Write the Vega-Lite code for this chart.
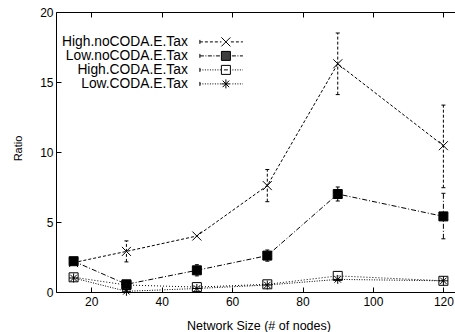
{
  "$schema": "https://vega.github.io/schema/vega-lite/v6.json",
  "autosize": {"type": "none"},
  "padding": {"left": 56, "top": 12, "right": 0, "bottom": 40},
  "width": 405,
  "height": 280,
  "background": "white",
  "config": {
    "view": {"stroke": "black", "strokeWidth": 1},
    "font": "Liberation Sans",
    "axis": {
      "labelFont": "Liberation Sans", "titleFont": "Liberation Sans",
      "labelColor": "black", "titleColor": "black", "tickColor": "black",
      "domainColor": "black", "titleFontWeight": "normal", "grid": false,
      "labelFontSize": 12, "titleFontSize": 12.5, "domain": false
    },
    "legend": {"labelFont": "Liberation Sans", "labelColor": "black"}
  },
  "data": {
    "values": [
      {"series": "High.noCODA.E.Tax", "size": 15, "ratio": 2.1},
      {"series": "High.noCODA.E.Tax", "size": 30, "ratio": 2.9, "lo": 2.15, "hi": 3.65},
      {"series": "High.noCODA.E.Tax", "size": 50, "ratio": 4.0},
      {"series": "High.noCODA.E.Tax", "size": 70, "ratio": 7.6, "lo": 6.45, "hi": 8.75},
      {"series": "High.noCODA.E.Tax", "size": 90, "ratio": 16.3, "lo": 14.1, "hi": 18.5},
      {"series": "High.noCODA.E.Tax", "size": 120, "ratio": 10.45, "lo": 7.45, "hi": 13.35},
      {"series": "Low.noCODA.E.Tax", "size": 15, "ratio": 2.2},
      {"series": "Low.noCODA.E.Tax", "size": 30, "ratio": 0.55},
      {"series": "Low.noCODA.E.Tax", "size": 50, "ratio": 1.55, "lo": 1.15, "hi": 1.95},
      {"series": "Low.noCODA.E.Tax", "size": 70, "ratio": 2.6, "lo": 2.2, "hi": 3.0},
      {"series": "Low.noCODA.E.Tax", "size": 90, "ratio": 7.0, "lo": 6.5, "hi": 7.5},
      {"series": "Low.noCODA.E.Tax", "size": 120, "ratio": 5.4, "lo": 3.8, "hi": 7.05},
      {"series": "High.CODA.E.Tax", "size": 15, "ratio": 1.05},
      {"series": "High.CODA.E.Tax", "size": 30, "ratio": 0.5},
      {"series": "High.CODA.E.Tax", "size": 50, "ratio": 0.35},
      {"series": "High.CODA.E.Tax", "size": 70, "ratio": 0.55},
      {"series": "High.CODA.E.Tax", "size": 90, "ratio": 1.15},
      {"series": "High.CODA.E.Tax", "size": 120, "ratio": 0.8},
      {"series": "Low.CODA.E.Tax", "size": 15, "ratio": 1.0},
      {"series": "Low.CODA.E.Tax", "size": 30, "ratio": 0.05},
      {"series": "Low.CODA.E.Tax", "size": 50, "ratio": 0.25},
      {"series": "Low.CODA.E.Tax", "size": 70, "ratio": 0.5},
      {"series": "Low.CODA.E.Tax", "size": 90, "ratio": 0.9},
      {"series": "Low.CODA.E.Tax", "size": 120, "ratio": 0.8}
    ]
  },
  "resolve": {"scale": {"shape": "independent"}, "axis": {"x": "independent", "y": "independent"}},
  "layer": [
    {
      "mark": {"type": "line", "color": "black", "strokeWidth": 1},
      "encoding": {
        "x": {"field": "size", "type": "quantitative", "scale": {"domain": [10, 125], "nice": false, "zero": false},
              "axis": {"values": [20, 40, 60, 80, 100, 120], "title": "Network Size (# of nodes)", "tickSize": -5, "labelPadding": 9, "titlePadding": 12}},
        "y": {"field": "ratio", "type": "quantitative", "scale": {"domain": [0, 20], "nice": false},
              "axis": {"values": [0, 5, 10, 15, 20], "title": "Ratio", "tickSize": -5, "labelPadding": 8, "titlePadding": 16, "titleFontSize": 11, "titleY": 136}},
        "strokeDash": {"field": "series", "type": "nominal",
                       "scale": {"domain": ["High.noCODA.E.Tax", "Low.noCODA.E.Tax", "High.CODA.E.Tax", "Low.CODA.E.Tax"],
                                 "range": [[3, 2], [5, 2, 1, 2], [1, 2], [1, 1.5]]},
                       "legend": null},
        "detail": {"field": "series"}
      }
    },
    {
      "transform": [{"filter": "isValid(datum.lo)"}],
      "mark": {"type": "rule", "color": "black", "strokeWidth": 1},
      "encoding": {
        "x": {"field": "size", "type": "quantitative", "axis": {"orient": "top", "labels": false, "title": null, "tickSize": -5, "values": [20, 40, 60, 80, 100, 120]}},
        "y": {"field": "lo", "type": "quantitative", "axis": {"orient": "right", "labels": false, "title": null, "tickSize": -5, "values": [0, 5, 10, 15, 20]}},
        "y2": {"field": "hi"},
        "strokeDash": {"field": "series", "type": "nominal", "legend": null}
      }
    },
    {
      "transform": [{"filter": "isValid(datum.lo)"}, {"fold": ["lo", "hi"], "as": ["end", "val"]}],
      "mark": {"type": "point", "shape": "M-1,0L1,0", "size": 16, "stroke": "black", "strokeWidth": 1, "filled": false, "opacity": 1},
      "encoding": {
        "x": {"field": "size", "type": "quantitative", "axis": null},
        "y": {"field": "val", "type": "quantitative", "axis": null}
      }
    },
    {
      "mark": {"type": "point", "size": 100, "stroke": "black", "strokeWidth": 1, "opacity": 1},
      "encoding": {
        "x": {"field": "size", "type": "quantitative", "axis": null},
        "y": {"field": "ratio", "type": "quantitative", "axis": null},
        "shape": {"field": "series", "type": "nominal", "legend": null,
                  "scale": {"domain": ["High.noCODA.E.Tax", "Low.noCODA.E.Tax", "High.CODA.E.Tax", "Low.CODA.E.Tax"],
                            "range": ["M-0.9,-0.9L0.9,0.9M-0.9,0.9L0.9,-0.9",
                                      "M-0.9,-0.9L0.9,-0.9L0.9,0.9L-0.9,0.9Z",
                                      "M-0.9,-0.9L0.9,-0.9L0.9,0.9L-0.9,0.9Z",
                                      "M-0.9,0L0.9,0M0,-0.9L0,0.9M-0.65,-0.65L0.65,0.65M-0.65,0.65L0.65,-0.65"]}},
        "fill": {"condition": {"test": "datum.series === 'Low.noCODA.E.Tax'", "value": "black"}, "value": "transparent"}
      }
    },
    {
      "mark": {"type": "point", "size": 100, "stroke": "black", "strokeWidth": 1, "opacity": 0},
      "encoding": {
        "x": {"field": "size", "type": "quantitative", "axis": null},
        "y": {"field": "ratio", "type": "quantitative", "axis": null},
        "shape": {"field": "series", "type": "nominal",
                  "scale": {"domain": ["High.noCODA.E.Tax", "Low.noCODA.E.Tax", "High.CODA.E.Tax", "Low.CODA.E.Tax"],
                            "range": ["M-5.2,-0.4L-5.2,0.4M-5.2,0L-4.6,0M-4.2,0L-3.6,0M-3.2,0L-2.6,0M-2.2,0L-1.6,0M-1.2,0L-0.9,0M-0.9,-0.9L0.9,0.9M-0.9,0.9L0.9,-0.9M1,0L1.6,0M2,0L2.6,0M3,0L3.4,0",
                                      "M-5.2,-0.4L-5.2,0.4M-5.2,0L-4.4,0M-4.1,0L-3.9,0M-3.6,0L-2.8,0M-2.5,0L-2.3,0M-2,0L-1.2,0M-0.9,-0.8L0.9,-0.8M-0.9,-0.6L0.9,-0.6M-0.9,-0.4L0.9,-0.4M-0.9,-0.2L0.9,-0.2M-0.9,0L0.9,0M-0.9,0.2L0.9,0.2M-0.9,0.4L0.9,0.4M-0.9,0.6L0.9,0.6M-0.9,0.8L0.9,0.8M-0.9,-0.9L0.9,-0.9L0.9,0.9L-0.9,0.9ZM1.2,0L2,0M2.3,0L2.5,0M2.8,0L3.4,0",
                                      "M-5.2,-0.4L-5.2,0.4M-5.2,0L-5,0M-4.7,0L-4.5,0M-4.2,0L-4,0M-3.7,0L-3.5,0M-3.2,0L-3,0M-2.7,0L-2.5,0M-2.2,0L-2,0M-1.7,0L-1.5,0M-1.2,0L-1,0M-0.4,0L0.4,0M-0.9,-0.9L0.9,-0.9L0.9,0.9L-0.9,0.9ZM1.3,0L1.5,0M1.8,0L2,0M2.3,0L2.5,0M2.8,0L3,0M3.3,0L3.4,0",
                                      "M-5.2,-0.4L-5.2,0.4M-5.2,0L-5,0M-4.7,0L-4.5,0M-4.2,0L-4,0M-3.7,0L-3.5,0M-3.2,0L-3,0M-2.7,0L-2.5,0M-2.2,0L-2,0M-1.7,0L-1.5,0M-1.2,0L-1,0M-0.9,0L0.9,0M0,-0.9L0,0.9M-0.65,-0.65L0.65,0.65M-0.65,0.65L0.65,-0.65M1.3,0L1.5,0M1.8,0L2,0M2.3,0L2.5,0M2.8,0L3,0M3.3,0L3.4,0"]},
                  "legend": {
                    "title": null, "orient": "none", "legendX": 163, "legendY": 23, "padding": 0,
                    "symbolSize": 100, "symbolStrokeColor": "black", "symbolStrokeWidth": 1,
                    "labelAlign": "right", "labelOffset": -45, "labelFontSize": 13.8, "labelBaseline": "middle",
                    "rowPadding": -1.5, "labelLimit": 300,
                    "encode": {"symbols": {"update": {"opacity": {"value": 1}}}}
                  }}
      }
    }
  ]
}
